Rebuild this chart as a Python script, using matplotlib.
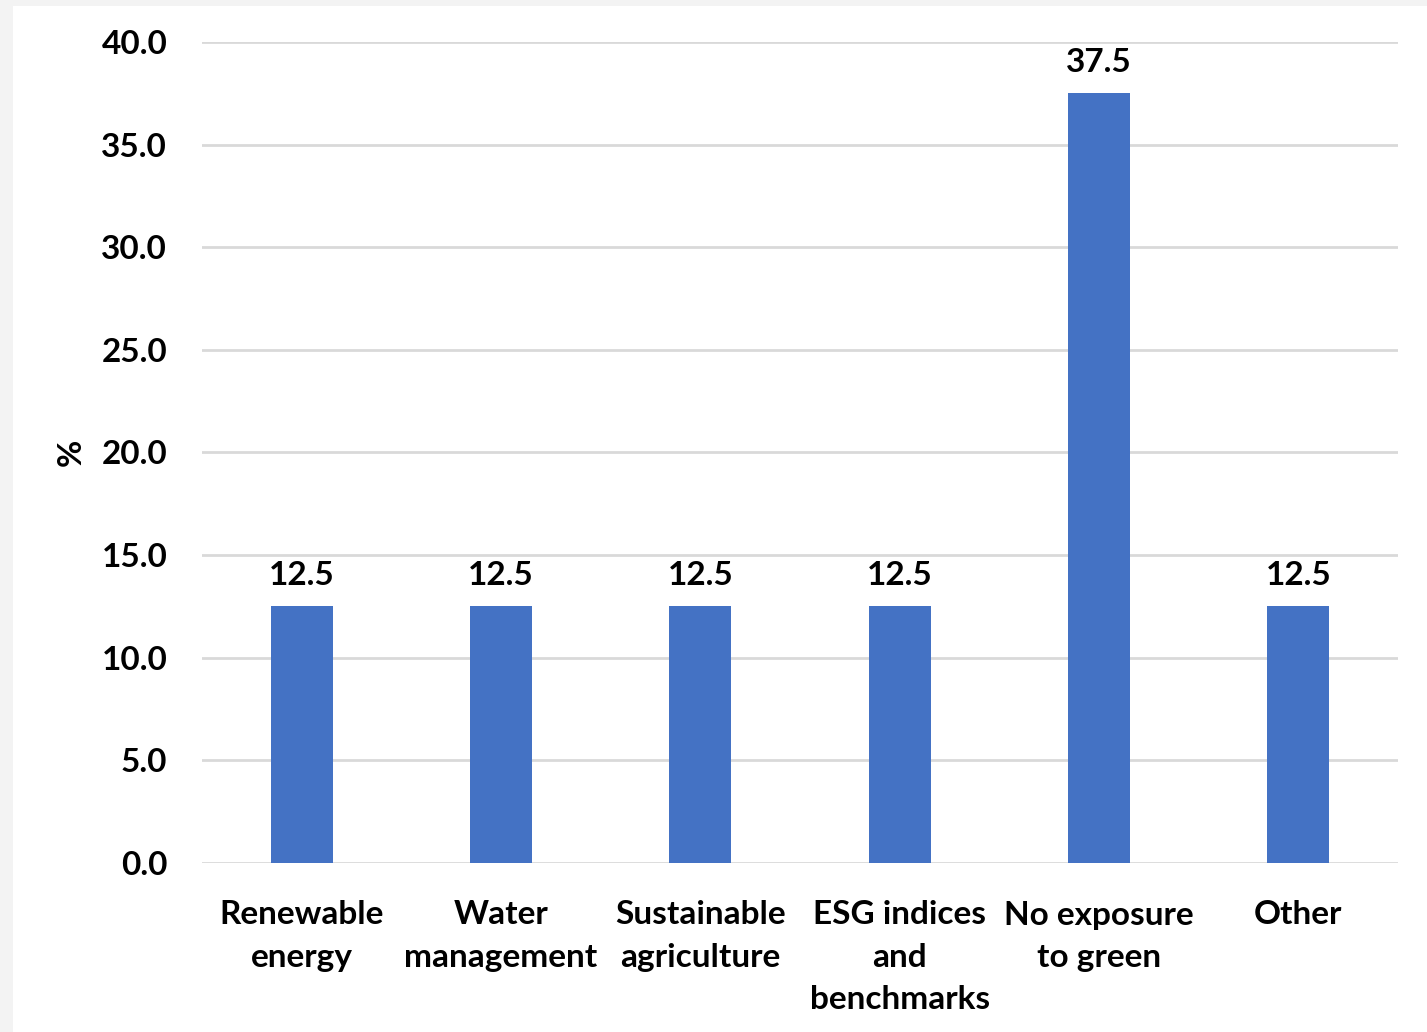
import matplotlib
matplotlib.use("Agg")
import matplotlib.pyplot as plt
from matplotlib.patches import Rectangle

categories = ["Renewable\nenergy", "Water\nmanagement", "Sustainable\nagriculture",
              "ESG indices\nand\nbenchmarks", "No exposure\nto green", "Other"]
values = [12.5, 12.5, 12.5, 12.5, 37.5, 12.5]
yticks = [0, 5, 10, 15, 20, 25, 30, 35, 40]

plt.rcParams['font.family'] = ['Lato', 'DejaVu Sans']
plt.rcParams['font.weight'] = 'bold'

W, H = 1427, 1032
fig = plt.figure(figsize=(W / 100, H / 100), dpi=100)
fig.patch.set_facecolor('#f3f3f3')
# white card behind the chart
fig.patches.append(Rectangle((13 / W, 0), 1 - 13 / W, 1 - 6 / H, transform=fig.transFigure,
                             facecolor='white', edgecolor='none', zorder=-10))

left, right = 202 / W, 1398 / W
bottom, top = 1 - 863 / H, 1 - 42 / H
ax = fig.add_axes([left, bottom, right - left, top - bottom])
ax.set_facecolor('none')

x = range(len(categories))
bars = ax.bar(x, values, width=0.31, color='#4472C4', zorder=3)
for xi, v in zip(x, values):
    ax.text(xi, v + 0.8, f"{v:.1f}", ha='center', va='bottom', fontsize=24,
            fontweight='bold', color='black')

ax.set_xlim(-0.5, len(categories) - 0.5)
ax.set_ylim(0, 40)
ax.set_yticks(yticks)
ax.set_yticklabels([f"{t:.1f}" for t in yticks], fontsize=24, fontweight='bold')
ax.set_xticks(list(x))
ax.set_xticklabels(categories, fontsize=24, fontweight='bold', linespacing=1.55)
ax.tick_params(axis='y', length=0, pad=25)
ax.tick_params(axis='x', length=0, pad=27)
ax.grid(axis='y', color='#d9d9d9', linewidth=2, zorder=0)
for s in ax.spines.values():
    s.set_visible(False)

ax.set_ylabel('%', fontsize=24, fontweight='bold', labelpad=11)

fig.savefig('out.png', dpi=100, facecolor=fig.get_facecolor())
